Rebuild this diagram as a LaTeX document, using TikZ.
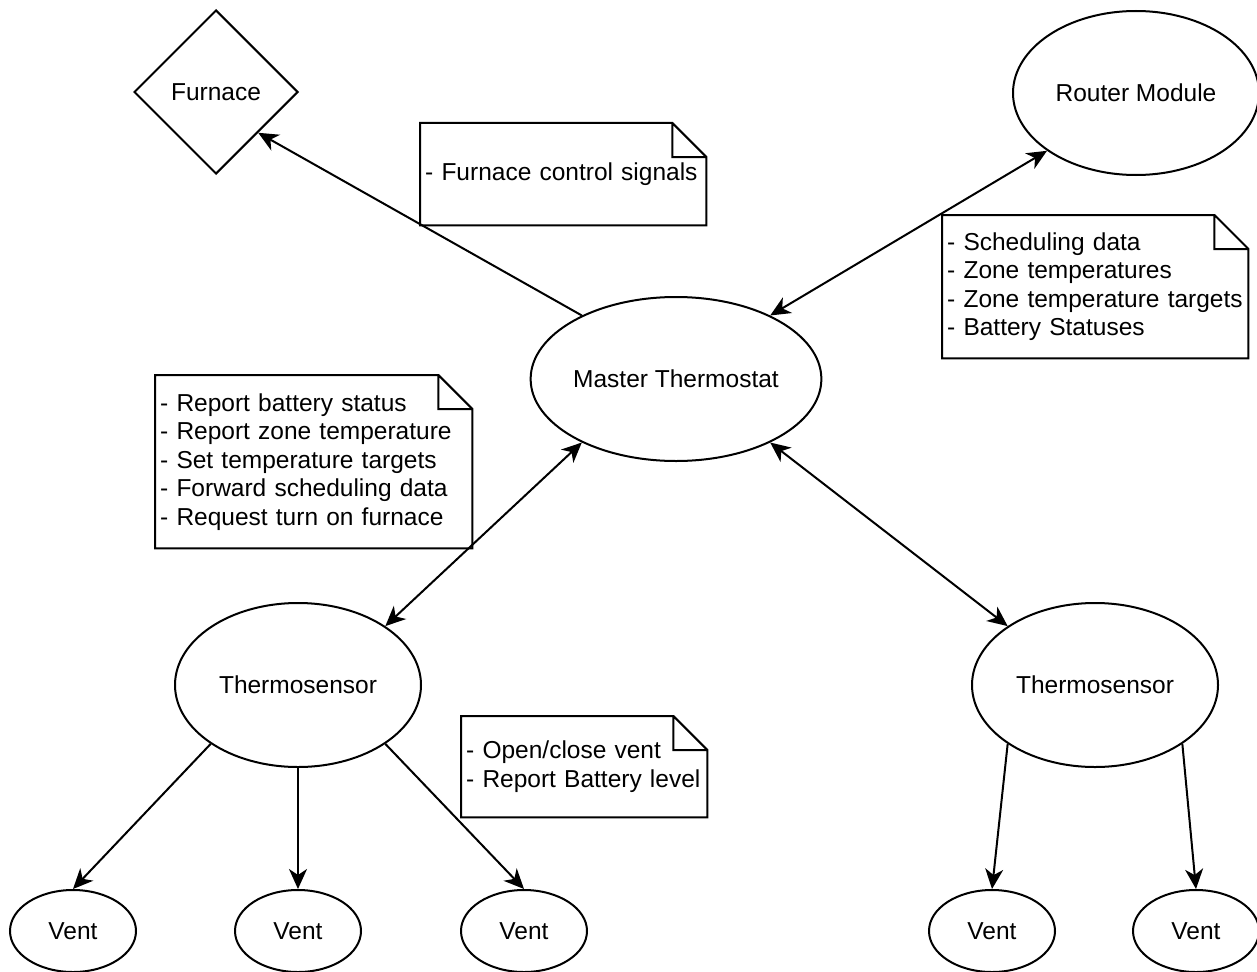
\documentclass[tikz,border=0pt]{standalone}
\usepackage{fontspec}
\setmainfont{Liberation Sans}
\usetikzlibrary{arrows.meta,shapes.geometric,calc}

\begin{document}
\begin{tikzpicture}[x=1pt,y=1pt,yscale=-1,xscale=1,
  every node/.style={font=\fontsize{24.5}{28.5}\selectfont},
  blob/.style={draw,ellipse,line width=2pt,inner sep=0pt,minimum width=246pt,minimum height=164pt},
  ventblob/.style={blob,minimum width=126pt,minimum height=82pt},
  memo/.style={anchor=north west,inner xsep=5pt,inner ysep=0pt,align=left,
    execute at begin node={\hyphenpenalty=10000\rightskip=0pt plus 1fil}},
  link/.style={line width=2pt,-{Stealth[length=20pt,width=18pt,inset=6pt]}},
  twoway/.style={line width=2pt,{Stealth[length=20pt,width=18pt,inset=6pt]}-{Stealth[length=20pt,width=18pt,inset=6pt]}}
]
\useasboundingbox (0,0) rectangle (1257,971);

%Shape: Diamond
\node [draw,diamond,aspect=1,line width=2pt,inner sep=0pt,minimum width=164pt,minimum height=164pt] (furnace) at (216,92) {Furnace};
%Shape: Ellipse
\node [blob] (router) at (1136,93) {Router Module};
\node [blob] (master) at (676,379) {Master Thermostat};
\node [blob] (tsleft) at (298,685) {Thermosensor};
\node [blob] (tsright) at (1095,685) {Thermosensor};
%Shape: Ellipse (vents)
\node [ventblob] (vent1) at (73,931) {Vent};
\node [ventblob] (vent2) at (298,931) {Vent};
\node [ventblob] (vent3) at (524,931) {Vent};
\node [ventblob] (vent4) at (992,931) {Vent};
\node [ventblob] (vent5) at (1196,931) {Vent};

% Text Node
\node [memo,text width=276pt,minimum height=102pt] (nfurnace) at (420,123) {- Furnace control signals};
% Text Node
\node [memo,text width=296pt,minimum height=143pt] (nrouter) at (942,215) {- Scheduling data\\- Zone temperatures\\- Zone temperature targets\\- Battery Statuses};
% Text Node
\node [memo,text width=307pt,minimum height=173pt] (nsensor) at (155,375) {- Report battery status\\- Report zone temperature\\- Set temperature targets\\- Forward scheduling data\\- Request turn on furnace};
% Text Node
\node [memo,text width=236pt,minimum height=101pt] (nvent) at (461,716) {- Open/close vent\\- Report Battery level};

%Shape: Note outlines
\foreach \n in {nfurnace,nrouter,nsensor,nvent}
  \draw [line width=2pt] (\n.north west) -- ($(\n.north east)+(-34,0)$) -- ($(\n.north east)+(0,34)$) -- (\n.south east) -- (\n.south west) -- cycle
    ($(\n.north east)+(-34,0)$) -- ($(\n.north east)+(-34,34)$) -- ($(\n.north east)+(0,34)$);

%Straight Lines
\draw [link] (master.146) -- (furnace.316);
\draw [twoway] (master.34) -- (router.213);
\draw [twoway] (master.214) -- (tsleft.34);
\draw [twoway] (master.326) -- (tsright.146);
%Straight Lines (to vents)
\draw [link] (tsleft.214) -- (vent1.north);
\draw [link] (tsleft.south) -- (vent2.north);
\draw [link] (tsleft.326) -- (vent3.north);
\draw [link] (tsright.214) -- (vent4.north);
\draw [link] (tsright.326) -- (vent5.north);
\end{tikzpicture}
\end{document}
